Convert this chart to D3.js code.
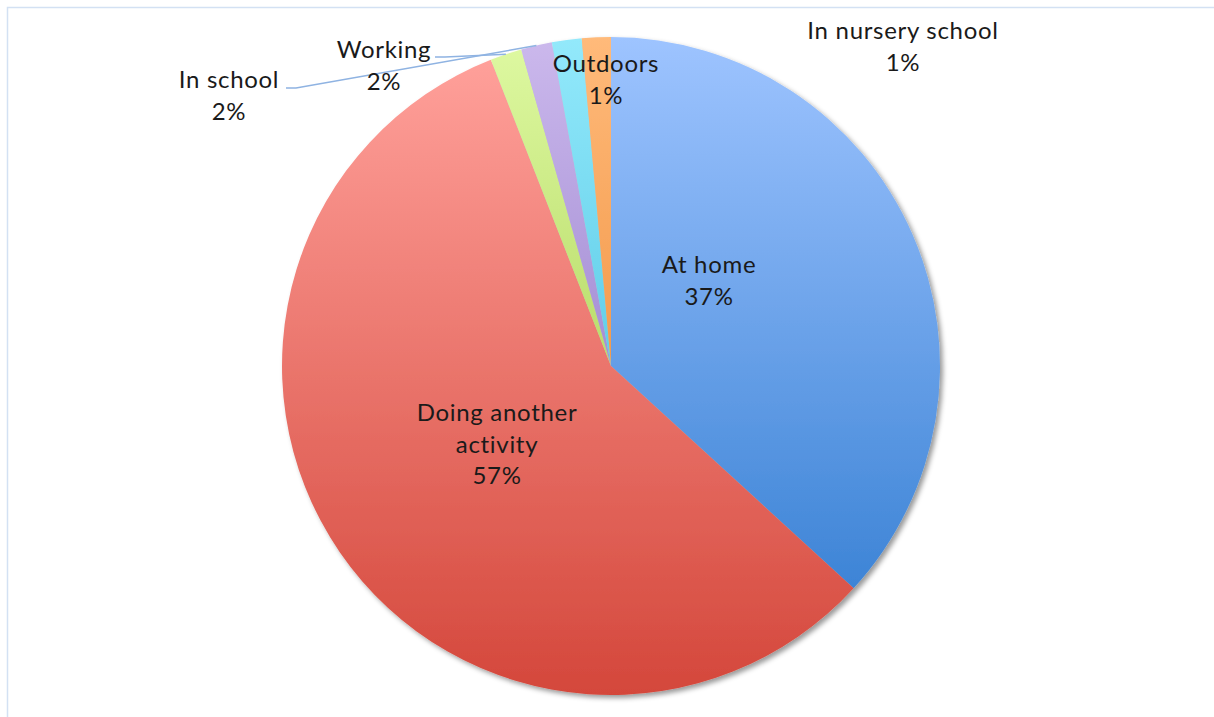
<!DOCTYPE html>
<html>
<head>
<meta charset="utf-8">
<script src="https://cdn.jsdelivr.net/npm/d3@7"></script>
<style>
  html, body { margin: 0; padding: 0; background: #fff; }
  svg { display: block; }
  text { font-family: "Lato", "DejaVu Sans", sans-serif; fill: #1a1a1a; }
</style>
</head>
<body>
<svg id="chart" width="1214" height="717"></svg>
<script>
// Where the time is spent (share of total), clockwise from 12 o'clock
const categories = ["At home", "Doing another activity", "Working", "In school", "In nursery school", "Outdoors"];
const values = [36.8, 57.25, 1.55, 1.52, 1.46, 1.42];
// Gradient stops per slice: light at the top, deeper at the bottom
const topColors = ["#9ec4ff", "#ffa09a", "#ddf8a0", "#cbb8ec", "#93e9fb", "#ffba7a"];
const bottomColors = ["#3d84d6", "#d4473b", "#b9dc6a", "#a48ed4", "#5fcde8", "#f39a4c"];
// Label text lines (before the percentage) and label anchors
const labelLines = [["At home"], ["Doing another", "activity"], ["Working"], ["In school"], ["In nursery school"], ["Outdoors"]];
const labelPos = [[709, 273], [497, 421], [384, 58], [229, 88], [903, 39], [606, 72]];
// Which labels sit outside the pie and get a leader line, with the line's start
const leaderStart = { 2: [435, 57], 3: [286, 88] };

const svg = d3.select("#chart");
const W = 1214, H = 717;
const cx = 611, cy = 366, r = 329;

// chart frame
svg.append("rect")
  .attr("x", 7.5).attr("y", 7.5)
  .attr("width", W + 10).attr("height", H + 10)
  .attr("fill", "#fff")
  .attr("stroke", "#d3e1f3").attr("stroke-width", 1.5);

const defs = svg.append("defs");
const shadow = defs.append("filter").attr("id", "pieShadow")
  .attr("x", "-10%").attr("y", "-10%").attr("width", "120%").attr("height", "120%");
shadow.append("feDropShadow")
  .attr("dx", 3).attr("dy", 3).attr("stdDeviation", 2.5)
  .attr("flood-color", "#000").attr("flood-opacity", 0.4);

categories.forEach((c, i) => {
  const g = defs.append("linearGradient").attr("id", "grad" + i)
    .attr("x1", 0).attr("y1", 0).attr("x2", 0).attr("y2", 1);
  g.append("stop").attr("offset", "0%").attr("stop-color", topColors[i]);
  g.append("stop").attr("offset", "100%").attr("stop-color", bottomColors[i]);
});

const data = categories.map((c, i) => ({ name: c, value: values[i], i }));
const total = d3.sum(values);
const pct = d3.format(".0%");

const pie = d3.pie().sort(null).value(d => d.value);
const arcs = pie(data);
const arc = d3.arc().innerRadius(0).outerRadius(r);

const pieG = svg.append("g")
  .attr("transform", `translate(${cx},${cy})`)
  .attr("filter", "url(#pieShadow)");

pieG.selectAll("path")
  .data(arcs)
  .join("path")
  .attr("d", arc)
  .attr("fill", d => `url(#grad${d.data.i})`);

// leader lines for the outside labels
const outerPoint = d3.arc().innerRadius(r).outerRadius(r);
Object.keys(leaderStart).forEach(k => {
  const a = arcs[+k];
  const [ex, ey] = outerPoint.centroid(a);
  const [sx, sy] = leaderStart[k];
  svg.append("polyline")
    .attr("points", [[sx, sy], [sx + 10, sy], [cx + ex, cy + ey]].map(p => p.join(",")).join(" "))
    .attr("fill", "none")
    .attr("stroke", "#8fb3e2")
    .attr("stroke-width", 1.5);
});

// data labels: category name lines, then the percentage
const lineH = 31.5;
data.forEach((d, i) => {
  const [x, y] = labelPos[i];
  const lines = labelLines[i].concat([pct(d.value / total)]);
  const t = svg.append("text")
    .attr("text-anchor", "middle")
    .attr("font-size", 24)
    .attr("letter-spacing", 0.7);
  lines.forEach((s, j) => {
    t.append("tspan").attr("x", x).attr("y", y + j * lineH).text(s);
  });
});
</script>
</body>
</html>
